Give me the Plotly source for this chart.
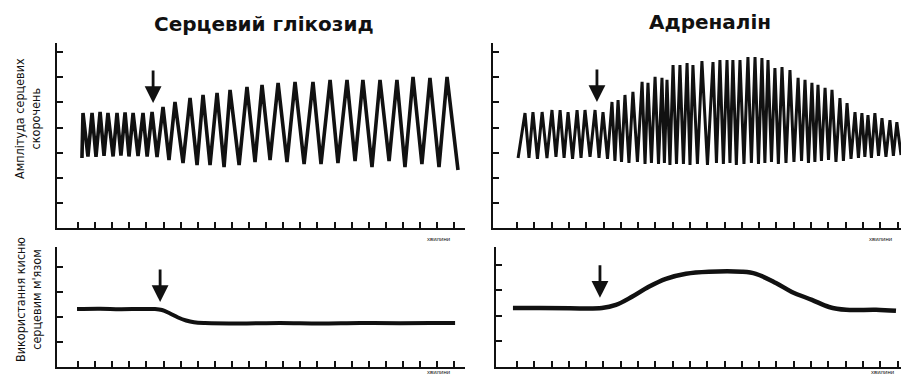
import plotly.graph_objects as go

W, H = 901, 376

# ---------------- data (time in minutes-ticks, values in arbitrary units) ----------------
ticks_x = list(range(1, 24))
ticks_top = [1, 2, 3, 4, 5, 6, 7]
ticks_bot = [1, 2, 3, 4]

# Cardiac glycoside: contraction amplitude (turning points of the trace)
gly_amp_t = [1.23, 1.29, 1.58, 1.82, 2.05, 2.29, 2.52, 2.75, 3.05, 3.28, 3.51, 3.75, 3.98,
             4.22, 4.51, 4.80, 5.04, 5.33, 5.62, 5.97, 6.32, 6.67, 7.14, 7.55, 7.96, 8.31,
             8.72, 9.13, 9.54, 9.89, 10.42, 10.88, 11.35, 11.76, 12.23, 12.70, 13.22, 13.69,
             14.22, 14.74, 15.21, 15.74, 16.20, 16.73, 17.20, 17.66, 18.19, 18.66, 19.19,
             19.65, 20.12, 20.59, 21.11, 21.58, 22.11, 22.58, 23.22]
gly_amp_v = [2.79, 4.58, 2.85, 4.58, 2.83, 4.62, 2.87, 4.58, 2.85, 4.58, 2.89, 4.60, 2.85,
             4.58, 2.87, 4.58, 2.85, 4.62, 2.83, 4.82, 2.71, 5.02, 2.59, 5.18, 2.51, 5.30,
             2.51, 5.38, 2.43, 5.50, 2.51, 5.62, 2.63, 5.70, 2.71, 5.78, 2.63, 5.82,
             2.55, 5.82, 2.55, 5.90, 2.59, 5.90, 2.67, 5.90, 2.43, 5.90, 2.67,
             5.90, 2.43, 6.02, 2.55, 5.98, 2.43, 6.02, 2.31]

# Adrenaline: contraction amplitude (peaks and troughs of each beat)
adr_peak_t = [1.46, 1.92, 2.45, 3.02, 3.49, 3.95, 4.47, 4.93, 5.51, 5.97,
              6.49, 6.84, 7.24, 7.70, 8.23, 8.57, 8.98, 9.38, 9.67, 10.02,
              10.42, 10.83, 11.17, 11.69, 12.33, 12.73, 13.14, 13.48, 13.89, 14.35,
              14.76, 15.16, 15.51, 15.91, 16.32, 16.78, 17.25, 17.65, 18.05, 18.40,
              18.81, 19.21, 19.67, 20.08, 20.54, 20.94, 21.29, 21.69, 22.10, 22.56, 22.96]
adr_peak_v = [4.58, 4.62, 4.62, 4.70, 4.70, 4.62, 4.70, 4.70, 4.70, 4.62,
              5.02, 5.10, 5.30, 5.42, 5.82, 5.78, 6.02, 5.98, 5.90, 6.49,
              6.49, 6.57, 6.49, 6.65, 6.61, 6.69, 6.69, 6.69, 6.69, 6.81,
              6.81, 6.77, 6.69, 6.37, 6.41, 6.29, 5.98, 5.90, 5.78, 5.70,
              5.58, 5.50, 5.18, 4.98, 4.62, 4.58, 4.50, 4.58, 4.38, 4.30, 4.22]
adr_trough_t = [1.69, 2.18, 2.73, 3.25, 3.72, 4.21, 4.70, 5.22, 5.74, 6.23,
                6.66, 7.04, 7.47, 7.96, 8.40, 8.77, 9.18, 9.52, 9.84, 10.22,
                10.62, 11.00, 11.43, 12.01, 12.53, 12.93, 13.31, 13.68, 14.12, 14.55,
                14.96, 15.33, 15.71, 16.11, 16.55, 17.01, 17.45, 17.85, 18.22, 18.60,
                19.01, 19.44, 19.87, 20.31, 20.74, 21.11, 21.49, 21.90, 22.33, 22.76, 23.20]
adr_trough_v = [2.79, 2.75, 2.79, 2.83, 2.79, 2.75, 2.79, 2.83, 2.79, 2.75,
                2.67, 2.63, 2.59, 2.63, 2.55, 2.59, 2.55, 2.59, 2.51, 2.55,
                2.55, 2.51, 2.55, 2.51, 2.59, 2.55, 2.59, 2.51, 2.55, 2.59,
                2.55, 2.59, 2.63, 2.55, 2.59, 2.63, 2.67, 2.59, 2.63, 2.67,
                2.71, 2.63, 2.67, 2.75, 2.79, 2.83, 2.79, 2.87, 2.83, 2.87, 2.91]
adr_start_t, adr_start_v = 1.06, 2.79

# Oxygen consumption by heart muscle
gly_o2_t = [0.94, 2.29, 3.46, 4.63, 5.50, 5.91, 6.38, 6.85, 7.32, 7.78, 8.42, 10.47,
            12.81, 15.15, 17.49, 19.83, 21.59, 23.05]
gly_o2_v = [2.32, 2.33, 2.31, 2.32, 2.32, 2.28, 2.14, 1.98, 1.86, 1.79, 1.76, 1.74,
            1.76, 1.74, 1.76, 1.75, 1.76, 1.76]
adr_o2_t = [0.77, 2.33, 4.06, 5.91, 6.72, 7.65, 8.62, 9.61, 10.77, 12.09, 14.00, 14.81,
            15.97, 16.89, 18.05, 19.04, 20.03, 21.76, 22.91]
adr_o2_v = [2.31, 2.31, 2.30, 2.31, 2.43, 2.75, 3.14, 3.45, 3.65, 3.73, 3.73, 3.65,
            3.29, 2.94, 2.63, 2.35, 2.24, 2.24, 2.20]

# drug application markers (time, value at arrow tip)
arrows = [("x", "y", 5.39, 4.98), ("x2", "y2", 5.62, 5.02),
          ("x3", "y3", 5.80, 2.60), ("x4", "y4", 5.80, 2.71)]

titles = ["Серцевий глікозид", "Адреналін"]
ylab_top = "Амплітуда серцевих<br>скорочень"
ylab_bot = "Використання кисню<br>серцевим м'язом"
xunit = "хвилини"

# ---------------- figure ----------------
adr_t = [adr_start_t]
adr_v = [adr_start_v]
for pt, pv, tt, tv in zip(adr_peak_t, adr_peak_v, adr_trough_t, adr_trough_v):
    adr_t += [pt, tt]
    adr_v += [pv, tv]

ink = "#111111"
fig = go.Figure()
fig.add_trace(go.Scatter(x=gly_amp_t, y=gly_amp_v, mode="lines", line=dict(color=ink, width=3.6),
                         xaxis="x", yaxis="y"))
fig.add_trace(go.Scatter(x=adr_t, y=adr_v, mode="lines", line=dict(color=ink, width=3),
                         xaxis="x2", yaxis="y2"))
fig.add_trace(go.Scatter(x=gly_o2_t, y=gly_o2_v, mode="lines", line=dict(color=ink, width=4, shape="spline"),
                         xaxis="x3", yaxis="y3"))
fig.add_trace(go.Scatter(x=adr_o2_t, y=adr_o2_v, mode="lines", line=dict(color=ink, width=4.5, shape="spline"),
                         xaxis="x4", yaxis="y4"))

def px(x):
    return x / W

def py(y):
    return 1 - y / H

axc = dict(showline=True, linewidth=2, linecolor=ink, showgrid=False, zeroline=False,
           ticks="inside", ticklen=6, tickwidth=2, tickcolor=ink, showticklabels=False,
           fixedrange=True)

fig.update_layout(
    width=W, height=H, margin=dict(l=0, r=0, t=0, b=0),
    paper_bgcolor="white", plot_bgcolor="white", showlegend=False,
    font=dict(family="Liberation Sans, Arial, sans-serif", color=ink),
    xaxis=dict(axc, domain=[px(57), px(465)], range=[-0.23, 23.63], tickvals=ticks_x, anchor="y"),
    yaxis=dict(axc, domain=[py(228), py(43)], range=[0, 7.37], tickvals=ticks_top, anchor="x"),
    xaxis2=dict(axc, domain=[px(493), px(901)], range=[-0.39, 23.2], tickvals=ticks_x, anchor="y2"),
    yaxis2=dict(axc, domain=[py(228), py(43)], range=[0, 7.37], tickvals=ticks_top, anchor="x2"),
    xaxis3=dict(axc, domain=[px(57), px(465)], range=[-0.23, 23.63], tickvals=ticks_x, anchor="y3"),
    yaxis3=dict(axc, domain=[py(367), py(247)], range=[0, 4.8], tickvals=ticks_bot, anchor="x3"),
    xaxis4=dict(axc, domain=[px(496), px(901)], range=[-0.21, 23.2], tickvals=ticks_x, anchor="y4"),
    yaxis4=dict(axc, domain=[py(367), py(247)], range=[0, 4.7], tickvals=ticks_bot, anchor="x4"),
)

ann = []
for xr, yr, t, v in arrows:
    ann.append(dict(x=t, y=v, xref=xr, yref=yr, ax=0, ay=-34, showarrow=True,
                    arrowhead=2, arrowsize=1.2, arrowwidth=2.8, arrowcolor=ink, text=""))
title_font = dict(family="DejaVu Sans, Liberation Sans, sans-serif", size=20, color=ink, weight="bold")
ann.append(dict(x=px(264), y=py(24), xref="paper", yref="paper", text=titles[0], showarrow=False,
                font=title_font, xanchor="center", yanchor="middle"))
ann.append(dict(x=px(710), y=py(22), xref="paper", yref="paper", text=titles[1], showarrow=False,
                font=title_font, xanchor="center", yanchor="middle"))
lab_font = dict(family="Liberation Sans Narrow, DejaVu Sans Condensed, Liberation Sans, sans-serif",
                size=12.5, color=ink)
ann.append(dict(x=px(28), y=py(119), xref="paper", yref="paper", text=ylab_top, showarrow=False,
                textangle=-90, font=lab_font, xanchor="center", yanchor="middle"))
ann.append(dict(x=px(28), y=py(300), xref="paper", yref="paper", text=ylab_bot, showarrow=False,
                textangle=-90, font=lab_font, xanchor="center", yanchor="middle"))
for xx, yy in [(438, 239), (880, 239), (438, 372), (882, 372)]:
    ann.append(dict(x=px(xx), y=py(yy), xref="paper", yref="paper", text=xunit, showarrow=False,
                    font=dict(size=6, color=ink), xanchor="center", yanchor="middle"))
fig.update_layout(annotations=ann)

fig.write_html("out.html", config={"displayModeBar": False},
               post_script="document.body.style.margin='0';document.body.style.overflow='hidden';")
